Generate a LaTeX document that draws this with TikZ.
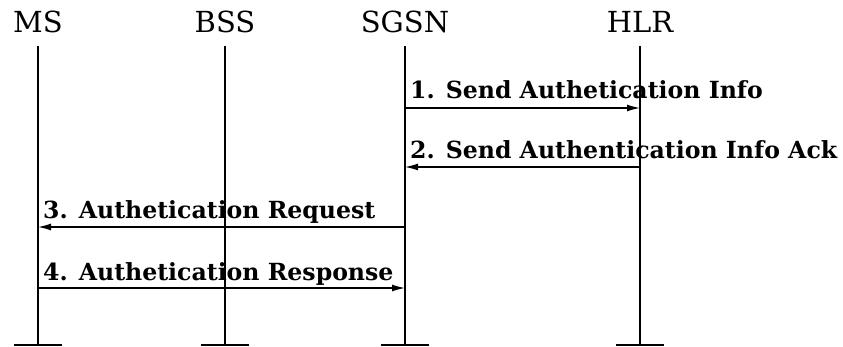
\documentclass[tikz,border=0pt]{standalone}
\usepackage{fontspec}
\usepackage{tikz}
\usetikzlibrary{arrows.meta}
\newfontfamily\msgfont{DejaVu Serif}

\begin{document}
\begin{tikzpicture}[x=1pt, y=-1pt,
    entity/.style={font=\msgfont\fontsize{29}{29}\selectfont, anchor=base, inner sep=0pt},
    msg/.style={font=\msgfont\bfseries\fontsize{23.6}{23.6}\selectfont, anchor=base west, inner sep=0pt},
    life/.style={line width=1.4pt},
    foot/.style={line width=2.5pt},
    call/.style={line width=1.4pt, -{Latex[length=13pt, width=7pt]}}]
    \useasboundingbox (0,0) rectangle (843,347);

    % Entities
    \node[entity] (ms) at (38,33) {MS};
    \node[entity] (bss) at (225,33) {BSS};
    \node[entity] (sgsn) at (405,33) {SGSN};
    \node[entity] (hlr) at (640,33) {HLR};

    % Lifelines
    \coordinate (msTop) at (38,46);
    \coordinate (bssTop) at (225,46);
    \coordinate (sgsnTop) at (405,46);
    \coordinate (hlrTop) at (640,46);
    \coordinate (msEnd) at (38,345);
    \coordinate (bssEnd) at (225,345);
    \coordinate (sgsnEnd) at (405,345);
    \coordinate (hlrEnd) at (640,345);
    \draw[life] (msTop) -- (msEnd);
    \draw[life] (bssTop) -- (bssEnd);
    \draw[life] (sgsnTop) -- (sgsnEnd);
    \draw[life] (hlrTop) -- (hlrEnd);
    \draw[foot] ([xshift=-24pt]msEnd) -- ([xshift=24pt]msEnd);
    \draw[foot] ([xshift=-24pt]bssEnd) -- ([xshift=24pt]bssEnd);
    \draw[foot] ([xshift=-24pt]sgsnEnd) -- ([xshift=24pt]sgsnEnd);
    \draw[foot] ([xshift=-24pt]hlrEnd) -- ([xshift=24pt]hlrEnd);

    % Message rows
    \coordinate (r1) at (0,108);
    \coordinate (r2) at (0,167);
    \coordinate (r3) at (0,227);
    \coordinate (r4) at (0,288);

    % Messages
    \draw[call] (sgsnTop |- r1) -- (hlrTop |- r1);
    \node[msg] (m1) at (410,99) {1. Send Authetication Info};
    \draw[call] (hlrTop |- r2) -- (sgsnTop |- r2);
    \node[msg] (m2) at (410,159) {2. Send Authentication Info Ack};
    \draw[call] (sgsnTop |- r3) -- (msTop |- r3);
    \node[msg] (m3) at (43,219) {3. Authetication Request};
    \draw[call] (msTop |- r4) -- (sgsnTop |- r4);
    \node[msg] (m4) at (43,280) {4. Authetication Response};
\end{tikzpicture}
\end{document}
